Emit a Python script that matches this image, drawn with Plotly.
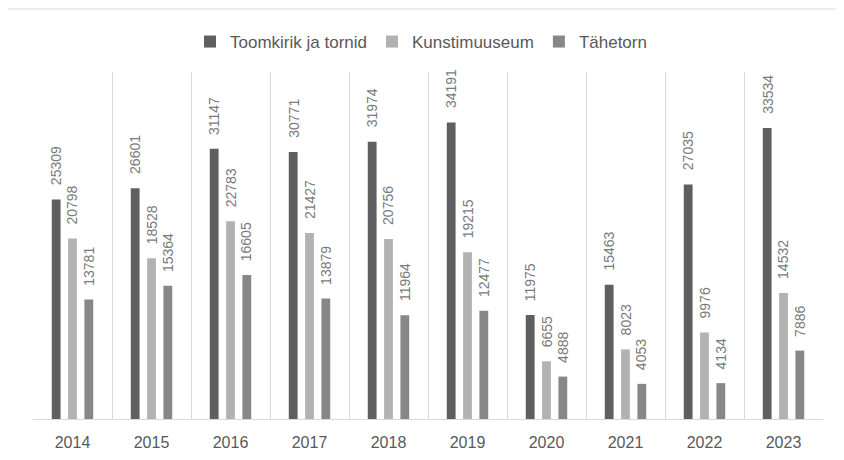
import plotly.graph_objects as go

years = ["2014", "2015", "2016", "2017", "2018", "2019", "2020", "2021", "2022", "2023"]
series_names = ["Toomkirik ja tornid", "Kunstimuuseum", "Tähetorn"]
toomkirik = [25309, 26601, 31147, 30771, 31974, 34191, 11975, 15463, 27035, 33534]
kunstimuuseum = [20798, 18528, 22783, 21427, 20756, 19215, 6655, 8023, 9976, 14532]
tahetorn = [13781, 15364, 16605, 13879, 11964, 12477, 4888, 4053, 4134, 7886]
colors = ["#5f5f5f", "#b2b2b2", "#878787"]

W, H = 828, 444
ML, MR, MT, MB = 25, 13, 64, 33
plot_w = W - ML - MR
plot_h = H - MT - MB
BARGAP = 0.38
BARGROUPGAP = 0.46
slot_px = plot_w / len(years) * (1 - BARGAP) / 3

fig = go.Figure()
all_series = [toomkirik, kunstimuuseum, tahetorn]
for name, vals, col in zip(series_names, all_series, colors):
    fig.add_trace(go.Bar(x=years, y=vals, name=name, marker=dict(color=col, line=dict(width=0))))

annotations = []
for i, vals in enumerate(all_series):
    for j, v in enumerate(vals):
        annotations.append(dict(
            x=j, y=v, xref="x", yref="y", text=str(v), showarrow=False,
            textangle=-90, yanchor="bottom",
            xshift=round((i - 1) * slot_px, 1), yshift=12,
            font=dict(size=14, color="#7a7a7a"),
        ))

fig.update_layout(
    width=W, height=H,
    margin=dict(l=ML, r=MR, t=MT, b=MB),
    paper_bgcolor="white", plot_bgcolor="white",
    barmode="group", bargap=BARGAP, bargroupgap=BARGROUPGAP,
    font=dict(family="Liberation Sans, Arial, sans-serif", color="#595959"),
    legend=dict(orientation="h", x=0.5 - 7 / plot_w, xanchor="center", y=1 + (MT - 34) / plot_h,
                yanchor="middle", font=dict(size=17, color="#595959"), itemwidth=30, traceorder="normal"),
    annotations=annotations,
    shapes=[dict(type="rect", xref="paper", yref="paper",
                 x0=(-1 - ML) / plot_w, x1=(W + 20 - ML) / plot_w,
                 y0=-(H + 20 - (MT + plot_h)) / plot_h, y1=1 + (MT - 1) / plot_h,
                 line=dict(color="#d9d9d9", width=1.2), fillcolor="rgba(0,0,0,0)", layer="below")],
)
fig.update_xaxes(type="category", tickson="boundaries", showgrid=True, gridcolor="#d9d9d9", gridwidth=1,
                 showline=True, linecolor="#d9d9d9", linewidth=1, ticks="", range=[-0.5, 9.5],
                 tickfont=dict(size=16, color="#595959"), ticklabelstandoff=9, automargin=False)
fig.update_yaxes(range=[0, 40000], showgrid=False, showticklabels=False, zeroline=False, showline=False,
                 automargin=False)

fig.write_html("out.html")
